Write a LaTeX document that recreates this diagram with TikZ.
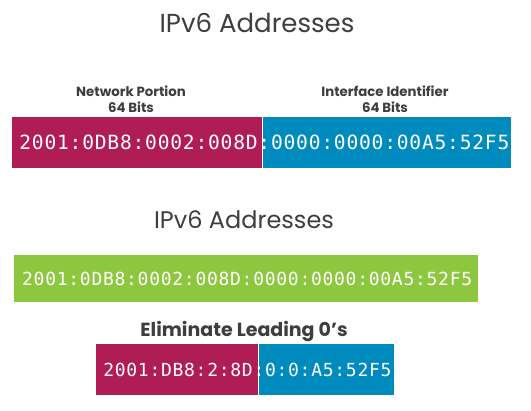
\documentclass[tikz,border=0pt]{standalone}
\usepackage{fontspec}
\setmainfont{Poppins}
\newfontfamily\hexfont[LetterSpace=4]{DejaVu Sans Mono}
\usetikzlibrary{positioning, calc}
\definecolor{netmag}{RGB}{176,28,86}
\definecolor{ifblue}{RGB}{0,139,191}
\definecolor{addrgreen}{RGB}{141,198,63}
\definecolor{titlegray}{RGB}{62,62,62}
\tikzset{
    titulo/.style={font=\fontsize{26}{30}\selectfont, text=titlegray, inner sep=0pt, anchor=base},
    etiqueta/.style={font=\bfseries\fontsize{13.3}{16}\selectfont, align=center, text=titlegray, inner sep=0pt},
    barra/.style={rectangle, inner sep=0pt, draw=none},
    hex_grande/.style={font=\hexfont\fontsize{19.6}{22}\selectfont, text=white, inner sep=0pt},
    hex_chico/.style={font=\hexfont\fontsize{18}{20}\selectfont, text=white, inner sep=0pt}
}
\begin{document}
\begin{tikzpicture}[x=1pt, y=-1pt]
    \useasboundingbox[fill=white] (0,0) rectangle (531,411);

    % bloque superior
    \node[titulo] (t1) at (257,33) {IPv6 Addresses};
    \node[barra, fill=netmag, minimum width=250pt, minimum height=51pt, anchor=north west] (netbar) at (12,117) {};
    \node[barra, fill=ifblue, minimum width=248pt, minimum height=51pt, right=0pt of netbar] (ifbar) {};
    \node[etiqueta] (netlbl) at (131,99) {Network Portion\\64 Bits};
    \node[etiqueta] (iflbl) at (385,99) {Interface Identifier\\64 Bits};
    \node[hex_grande, xshift=3pt] (addrtxt) at ($(netbar.west)!0.5!(ifbar.east)$) {2001:0DB8:0002:008D:0000:0000:00A5:52F5};

    % bloque inferior
    \node[titulo, font=\fontsize{24}{28}\selectfont] (t2) at (244,229) {IPv6 Addresses};
    \node[barra, fill=addrgreen, minimum width=464pt, minimum height=47pt, anchor=north west] (fullbar) at (14,255) {};
    \node[hex_chico, xshift=1pt] (fulltxt) at (fullbar.center) {2001:0DB8:0002:008D:0000:0000:00A5:52F5};
    \node[etiqueta, font=\bfseries\fontsize{19}{22}\selectfont, anchor=base] (elim) at (244,337) {Eliminate Leading 0’s};
    \node[barra, fill=netmag, minimum width=162pt, minimum height=51pt, anchor=north west] (shortnet) at (96,344) {};
    \node[barra, fill=ifblue, minimum width=135pt, minimum height=51pt, right=0pt of shortnet] (shortif) {};
    \node[hex_chico, xshift=2.5pt] (shorttxt) at ($(shortnet.west)!0.5!(shortif.east)$) {2001:DB8:2:8D:0:0:A5:52F5};
\end{tikzpicture}
\end{document}
